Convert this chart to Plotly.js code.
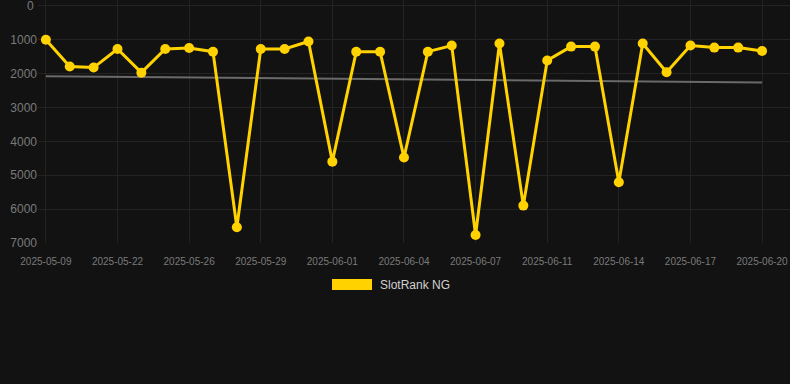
<!DOCTYPE html>
<html>
<head>
<meta charset="utf-8">
<script src="https://cdn.plot.ly/plotly-3.0.1.min.js"></script>
<style>
  html, body { margin: 0; padding: 0; background: #121212; }
  #chart { width: 790px; height: 384px; }
</style>
</head>
<body>
<div id="chart"></div>
<script>
const dates = [
  "2025-05-09","2025-05-15","2025-05-19","2025-05-22","2025-05-23","2025-05-25",
  "2025-05-26","2025-05-27","2025-05-28","2025-05-29","2025-05-30","2025-05-31",
  "2025-06-01","2025-06-02","2025-06-03","2025-06-04","2025-06-05","2025-06-06",
  "2025-06-07","2025-06-08","2025-06-10","2025-06-11","2025-06-12","2025-06-13",
  "2025-06-14","2025-06-15","2025-06-16","2025-06-17","2025-06-18","2025-06-19",
  "2025-06-20"
];
const rank = [
  1000, 1790, 1820, 1270, 1970, 1270,
  1240, 1350, 6540, 1270, 1270, 1050,
  4600, 1350, 1350, 4480, 1350, 1170,
  6770, 1110, 5900, 1610, 1200, 1200,
  5210, 1110, 1960, 1170, 1230, 1230,
  1330
];
const tickDates = ["2025-05-09","2025-05-22","2025-05-26","2025-05-29","2025-06-01",
  "2025-06-04","2025-06-07","2025-06-11","2025-06-14","2025-06-17","2025-06-20"];
const yTicks = [0, 1000, 2000, 3000, 4000, 5000, 6000, 7000];
const seriesName = "SlotRank NG";

// linear trend (least squares) over category index
const n = rank.length;
const idx = rank.map((_, i) => i);
const mx = idx.reduce((a, b) => a + b, 0) / n;
const my = rank.reduce((a, b) => a + b, 0) / n;
let sxy = 0, sxx = 0;
for (let i = 0; i < n; i++) { sxy += (i - mx) * (rank[i] - my); sxx += (i - mx) * (i - mx); }
const slope = sxy / sxx;
const trend = idx.map(i => my + slope * (i - mx));

const gold = "#FFD200";
const tickColor = "#7a7a7a";
const traces = [
  {
    x: dates, y: trend, type: "scatter", mode: "lines",
    line: { color: "#6a6a6a", width: 2 }, hoverinfo: "skip", showlegend: false
  },
  {
    x: dates, y: rank, type: "scatter", mode: "lines+markers", name: seriesName,
    line: { color: gold, width: 3 },
    marker: { color: gold, size: 10 },
    showlegend: false
  }
];

const layout = {
  width: 790, height: 384,
  paper_bgcolor: "#121212", plot_bgcolor: "#121212",
  margin: { l: 38, r: 0, t: 0, b: 141 },
  font: { family: "Liberation Sans, Arial, sans-serif", color: tickColor },
  xaxis: {
    type: "category",
    categoryorder: "array", categoryarray: dates,
    range: [-0.33, 31.17],
    tickvals: tickDates, ticktext: tickDates,
    tickfont: { size: 10, color: tickColor },
    showgrid: true, gridcolor: "#232323", gridwidth: 1,
    zeroline: false, showline: false,
    ticks: "outside", ticklen: 9, tickcolor: "rgba(0,0,0,0)"
  },
  yaxis: {
    range: [7005, -177],
    tickmode: "array",
    tickvals: yTicks,
    ticktext: yTicks.map(v => v === 0 ? "" : String(v)),
    tickfont: { size: 12, color: tickColor },
    showgrid: true, gridcolor: "#232323", gridwidth: 1,
    zeroline: false, showline: false, ticks: ""
  },
  shapes: [
    { type: "rect", xref: "paper", yref: "paper",
      x0: (332 - 38) / 752, x1: (372 - 38) / 752,
      y0: (243 - 290) / 243, y1: (243 - 279) / 243,
      fillcolor: gold, line: { width: 0 } }
  ],
  annotations: [
    { xref: "paper", yref: "y", x: 0, y: yTicks[0], xshift: -2,
      xanchor: "right", yanchor: "middle", showarrow: false,
      text: String(yTicks[0]), font: { size: 12, color: tickColor } },
    { xref: "paper", yref: "paper", x: (378 - 38) / 752, y: (243 - 284.5) / 243,
      xanchor: "left", yanchor: "middle", showarrow: false,
      text: seriesName, font: { size: 12, color: "#d0d0d0" } }
  ],
  showlegend: false
};

Plotly.newPlot("chart", traces, layout, { displayModeBar: false, staticPlot: true });
</script>
</body>
</html>
